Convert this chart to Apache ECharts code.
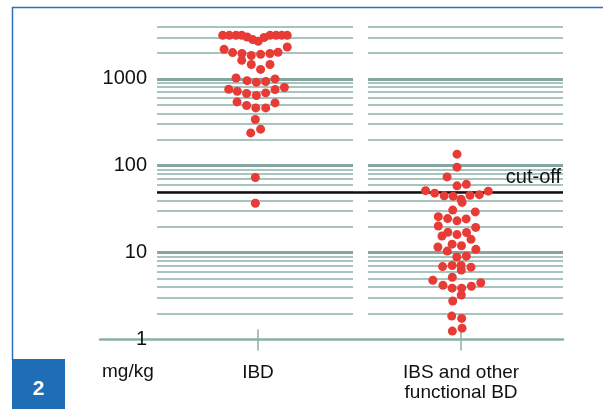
<!DOCTYPE html>
<html><head><meta charset="utf-8">
<script src="https://cdn.jsdelivr.net/npm/echarts@6/dist/echarts.min.js"></script>
<style>html,body{margin:0;padding:0;background:#fff}#c{width:603px;height:409px}</style>
</head><body><div id="c"></div>
<script>
// ---- data ----
const categories = ['IBD', 'IBS and other\nfunctional BD'];
const unitLabel = 'mg/kg';
const yTickValues = [1, 10, 100, 1000];
const cutOff = 50;
const cutOffLabel = 'cut-off';
const figureNumber = '2';
const gridLineValues = [2,3,4,5,6,7,8,9,10,20,30,40,50,60,70,80,90,100,200,300,400,500,600,700,800,900,1000,2000,3000,4000];
const decadeLines = [10, 100, 1000];

// IBD (category 1) values in mg/kg, with beeswarm spread (fraction of category step)
const ibdValues = [3160,3160,3160,3160,3020,2820,2700,2980,3160,3160,3160,3160,
  2180,2000,1950,1850,1910,1950,2020,2320,
  1630,1460,1280,1460,
  1020,950,910,930,995,
  757,718,676,641,687,751,792,
  541,492,462,462,527,
  340,
  263,238,
  73,37];
const ibdSpread = [-0.174,-0.141,-0.108,-0.080,-0.053,-0.026,0.001,0.030,0.059,0.089,0.117,0.144,
  -0.167,-0.125,-0.079,-0.033,0.013,0.059,0.099,0.144,
  -0.080,-0.033,0.013,0.059,
  -0.108,-0.054,-0.008,0.038,0.084,
  -0.144,-0.102,-0.056,-0.008,0.038,0.084,0.130,
  -0.103,-0.056,-0.011,0.038,0.084,
  -0.013,
  0.013,-0.036,
  -0.013,-0.013];

// IBS and other functional BD (category 2)
const ibsValues = [135.6,96.1,74.3,58.6,61.0,
  51.6,48.3,45.0,44.6,41.2,37.8,45.6,46.4,50.9,
  30.8,29.4,25.9,24.6,23.2,24.4,20.2,19.5,17.1,16.1,17.0,15.5,14.2,
  12.5,12.0,11.6,10.4,10.9,8.9,9.1,
  6.9,7.1,7.1,6.3,6.8,4.8,5.2,4.2,3.9,3.9,4.1,4.5,
  3.25,2.77,1.86,1.75,1.25,1.35];
const ibsSpread = [-0.020,-0.020,-0.069,-0.020,0.026,
  -0.175,-0.130,-0.083,-0.039,0.000,0.005,0.044,0.090,0.134,
  -0.041,0.070,-0.112,-0.066,-0.020,0.025,-0.112,0.072,-0.065,-0.020,0.027,-0.094,0.049,
  -0.044,0.002,-0.114,-0.068,0.073,-0.021,0.026,
  -0.091,-0.044,0.000,0.001,0.049,-0.139,-0.043,-0.089,-0.044,0.003,0.051,0.097,
  0.001,-0.041,-0.046,0.003,-0.043,0.005];

// ---- layout / style ----
const FONT = '"Liberation Sans", Arial, sans-serif';
const TEXT_COLOR = '#111111';
const GRID_COLOR = '#8cb0a9';
const DOT_COLOR = '#e63c35';
const panels = [[0.503, 1.468], [1.542, 2.502]];

const gridLines = [];
gridLineValues.forEach(v => {
  const isDecade = decadeLines.includes(v);
  panels.forEach(p => {
    gridLines.push([
      {coord: [p[0], v], lineStyle: {type: 'solid', width: isDecade ? 2.8 : 1.7, color: isDecade ? '#84a8a1' : GRID_COLOR}},
      {coord: [p[1], v]}
    ]);
  });
});

const upperTicks = [1, 2].map(c => [{coord: [c, 1]}, {coord: [c, 1.3]}]);

const chart = echarts.init(document.getElementById('c'), null, {renderer: 'canvas'});
chart.setOption({
  animation: false,
  backgroundColor: '#ffffff',
  grid: {left: 100, right: 40, top: 18, bottom: 69.5, containLabel: false},
  xAxis: {
    type: 'value', min: 0.222, max: 2.502,
    splitLine: {show: false},
    axisLine: {lineStyle: {color: GRID_COLOR, width: 2.5}},
    axisTick: {customValues: [1, 2], length: 11, lineStyle: {color: GRID_COLOR, width: 1.5}},
    axisLabel: {
      customValues: [1, 2],
      formatter: v => categories[Math.round(v) - 1],
      fontSize: 19, lineHeight: 20, color: TEXT_COLOR, fontFamily: FONT,
      verticalAlign: 'top', margin: 23
    },
    name: unitLabel, nameLocation: 'start', nameGap: -2,
    nameTextStyle: {align: 'left', verticalAlign: 'top', padding: [23, 0, 0, 0], fontSize: 19, color: TEXT_COLOR, fontFamily: FONT}
  },
  yAxis: {
    type: 'log', logBase: 10, min: 1, max: 5000, offset: -49,
    axisLine: {show: false}, axisTick: {show: false}, splitLine: {show: false},
    axisLabel: {
      formatter: v => yTickValues.includes(Math.round(v)) ? String(Math.round(v)) : '',
      fontSize: 20, color: TEXT_COLOR, fontFamily: FONT, margin: 2
    }
  },
  series: [
    {
      type: 'scatter', data: [], silent: true, z: 1,
      markLine: {silent: true, symbol: ['none', 'none'], animation: false,
        lineStyle: {type: 'solid'}, label: {show: false}, data: gridLines}
    },
    {
      type: 'scatter', data: [], silent: true, z: 2,
      markLine: {silent: true, symbol: ['none', 'none'], animation: false,
        lineStyle: {color: GRID_COLOR, width: 1.5, type: 'solid'}, label: {show: false}, data: upperTicks}
    },
    {
      type: 'scatter', data: [], silent: true, z: 3,
      markLine: {
        silent: true, symbol: ['none', 'none'], animation: false,
        lineStyle: {color: '#111', width: 2.6, type: 'solid'},
        label: {show: true, position: 'insideEndTop', formatter: cutOffLabel, fontSize: 20, color: TEXT_COLOR, fontFamily: FONT, distance: [2, 4]},
        data: [[{coord: [0.503, cutOff]}, {coord: [2.502, cutOff]}]]
      }
    },
    {
      name: 'IBD', type: 'scatter', z: 5, symbolSize: 9,
      itemStyle: {color: DOT_COLOR, opacity: 1},
      data: ibdValues.map((v, i) => [1 + ibdSpread[i], v])
    },
    {
      name: 'IBS', type: 'scatter', z: 5, symbolSize: 9,
      itemStyle: {color: DOT_COLOR, opacity: 1},
      data: ibsValues.map((v, i) => [2 + ibsSpread[i], v])
    }
  ],
  graphic: [
    {type: 'line', shape: {x1: 12.5, y1: 7, x2: 12.5, y2: 360}, style: {stroke: '#2a70bd', lineWidth: 1.5}},
    {type: 'line', shape: {x1: 12, y1: 7.5, x2: 603, y2: 7.5}, style: {stroke: '#2a70bd', lineWidth: 1.5}},
    {type: 'rect', shape: {x: 12, y: 359, width: 53, height: 50}, style: {fill: '#1f6db5'}},
    {type: 'text', x: 38.5, y: 389, style: {text: figureNumber, fill: '#ffffff', font: 'bold 21px ' + FONT, align: 'center', verticalAlign: 'middle'}}
  ]
});
</script></body></html>
